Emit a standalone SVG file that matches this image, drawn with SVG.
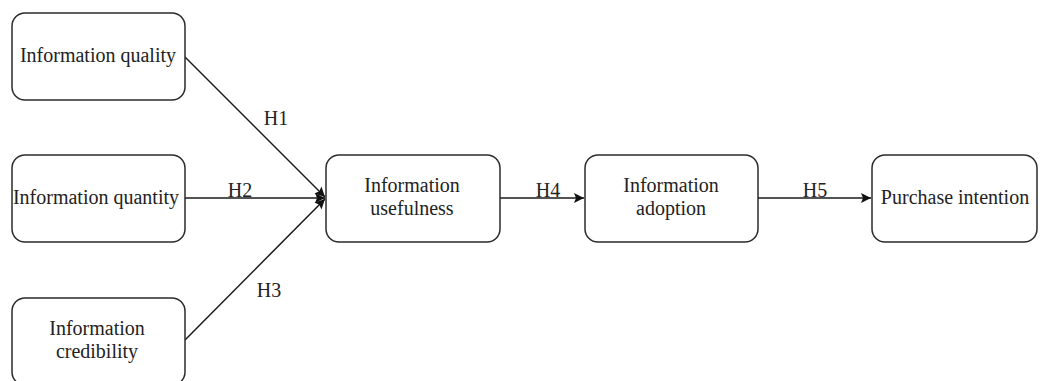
<svg xmlns="http://www.w3.org/2000/svg" width="1040" height="381" viewBox="0 0 1040 381">
  <style>
    .box { fill: #ffffff; stroke: #2b2b2b; stroke-width: 1.5; }
    .lbl { font-family: "Liberation Serif", "Times New Roman", serif; font-size: 20px; fill: #222222; text-anchor: middle; }
    .edge { fill: none; stroke: #1a1a1a; stroke-width: 1.5; }
  </style>
  <defs>
    <marker id="arrow" viewBox="0 0 10 10" refX="10" refY="5" markerWidth="11" markerHeight="10" markerUnits="userSpaceOnUse" orient="auto">
      <path d="M0,0 L10,5 L0,10 L2,5 Z" fill="#111111"/>
    </marker>
  </defs>
  <rect width="1040" height="381" fill="#ffffff"/>

  <g id="connectors">
    <line class="edge" x1="185" y1="57" x2="325" y2="197" marker-end="url(#arrow)"/>
    <line class="edge" x1="185" y1="198" x2="325" y2="198" marker-end="url(#arrow)"/>
    <line class="edge" x1="185" y1="340" x2="325" y2="199" marker-end="url(#arrow)"/>
    <line class="edge" x1="500" y1="198" x2="584" y2="198" marker-end="url(#arrow)"/>
    <line class="edge" x1="758" y1="198" x2="871" y2="198" marker-end="url(#arrow)"/>
    <text class="lbl" x="276" y="125">H1</text>
    <text class="lbl" x="240" y="197">H2</text>
    <text class="lbl" x="269" y="297">H3</text>
    <text class="lbl" x="548" y="197">H4</text>
    <text class="lbl" x="815" y="197">H5</text>
  </g>

  <g id="node-quality">
    <rect class="box" x="12" y="13" width="173" height="87" rx="13"/>
    <text class="lbl" x="98" y="62">Information quality</text>
  </g>
  <g id="node-quantity">
    <rect class="box" x="12" y="155" width="173" height="87" rx="13"/>
    <text class="lbl" x="96" y="204">Information quantity</text>
  </g>
  <g id="node-credibility">
    <rect class="box" x="12" y="298" width="173" height="87" rx="13"/>
    <text class="lbl" x="97" y="335">Information</text>
    <text class="lbl" x="97" y="358">credibility</text>
  </g>
  <g id="node-usefulness">
    <rect class="box" x="326" y="155" width="174" height="87" rx="13"/>
    <text class="lbl" x="412" y="192">Information</text>
    <text class="lbl" x="412" y="215">usefulness</text>
  </g>
  <g id="node-adoption">
    <rect class="box" x="585" y="155" width="173" height="87" rx="13"/>
    <text class="lbl" x="671" y="192">Information</text>
    <text class="lbl" x="671" y="215">adoption</text>
  </g>
  <g id="node-purchase">
    <rect class="box" x="872" y="155" width="165" height="87" rx="13"/>
    <text class="lbl" x="955" y="204">Purchase intention</text>
  </g>
</svg>
